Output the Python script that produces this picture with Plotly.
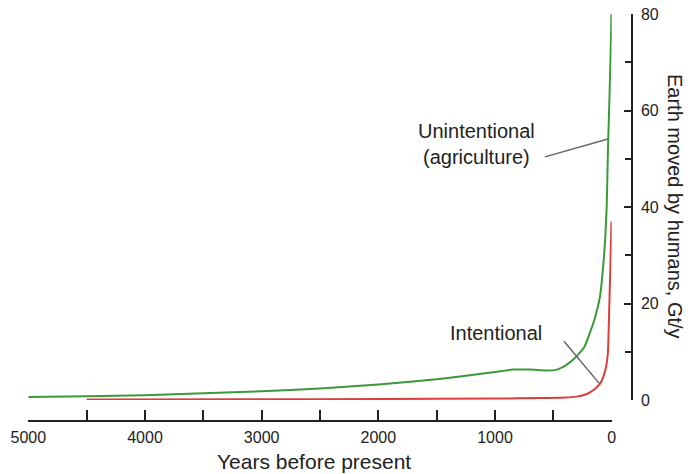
import plotly.graph_objects as go

# Years before present and earth moved (Gt/y)
green_years = [5000, 4500, 4000, 3500, 3000, 2500, 2000, 1500, 1200, 1000, 850, 700, 550,
               470, 420, 370, 320, 280, 230, 186, 150, 100, 72, 57, 43, 32, 20, 10, 2]
green_vals = [0.6, 0.8, 1.0, 1.4, 1.8, 2.4, 3.2, 4.3, 5.2, 5.8, 6.3, 6.3, 6.1,
              6.3, 6.8, 7.6, 8.6, 9.6, 11.2, 14.0, 16.5, 21.5, 28, 33, 40, 52, 62, 71, 80]

red_years = [4500, 3000, 2000, 1000, 600, 400, 300, 230, 186, 140, 100, 75, 57, 43, 32, 20, 10, 2]
red_vals = [0.1, 0.15, 0.2, 0.3, 0.4, 0.5, 0.7, 1.1, 1.6, 2.4, 3.4, 4.6, 6.0, 7.6, 10, 20, 29, 37]

x_ticks = [5000, 4000, 3000, 2000, 1000, 0]
y_ticks = [0, 20, 40, 60, 80]

FONT = "Liberation Sans, Arial, sans-serif"
TXT = "#222"

# body margin is removed below, so the figure fills the window
OFF = 0
W, H = 695, 474


def px(v):
    return (v - OFF) / W


def py(v):
    return (H - (v - OFF)) / H


fig = go.Figure()
fig.add_trace(go.Scatter(x=green_years, y=green_vals, mode="lines",
                         line=dict(color="#3a9a3a", width=2, shape="spline", smoothing=0.5),
                         name="Unintentional (agriculture)", showlegend=False))
fig.add_trace(go.Scatter(x=red_years, y=red_vals, mode="lines",
                         line=dict(color="#e03c3c", width=2, shape="spline", smoothing=0.4),
                         name="Intentional", showlegend=False))

fig.update_layout(
    width=W, height=H,
    margin=dict(l=0, r=0, t=0, b=0),
    paper_bgcolor="white", plot_bgcolor="white",
    font=dict(family=FONT, color=TXT),
    xaxis=dict(
        range=[5000, 0], domain=[px(28.3), px(611.7)],
        anchor="free", position=py(420.7),
        showgrid=False, zeroline=False,
        showline=True, linecolor="#222", linewidth=2,
        ticks="inside", ticklen=10, tickwidth=2, tickcolor="#222",
        tickvals=x_ticks, ticktext=[str(v) for v in x_ticks],
        tickfont=dict(size=16, color=TXT, family=FONT),
        ticklabeloverflow="allow", ticklabelstandoff=2,
        minor=dict(dtick=500, tick0=0, ticks="inside", ticklen=10, tickwidth=2, tickcolor="#222"),
        automargin=False,
    ),
    yaxis=dict(
        range=[0, 80.02], domain=[py(400), py(14)],
        anchor="free", position=px(631.7), side="right",
        showgrid=False, zeroline=False,
        showline=True, linecolor="#222", linewidth=2,
        ticks="inside", ticklen=7, tickwidth=2, tickcolor="#222",
        tickvals=y_ticks, ticktext=[str(v) for v in y_ticks],
        tickfont=dict(size=16, color=TXT, family=FONT),
        ticklabeloverflow="allow", ticklabelstandoff=5,
        minor=dict(dtick=10, tick0=0, ticks="inside", ticklen=6, tickwidth=2, tickcolor="#222"),
        automargin=False,
    ),
)

# axis titles
fig.add_annotation(text="Years before present", xref="paper", yref="paper",
                   x=px(314), y=py(461), xanchor="center", yanchor="middle",
                   showarrow=False, font=dict(size=21, color=TXT, family=FONT))
fig.add_annotation(text="Earth moved by humans, Gt/y", xref="paper", yref="paper",
                   x=px(675), y=py(206), xanchor="center", yanchor="middle",
                   textangle=90, showarrow=False, font=dict(size=20, color=TXT, family=FONT))

# series labels
fig.add_annotation(text="Unintentional<br>(agriculture)", x=1163, y=53.0, xref="x", yref="y",
                   xanchor="center", yanchor="middle", showarrow=False,
                   font=dict(size=20, color=TXT, family=FONT))
fig.add_annotation(text="Intentional", x=992, y=13.9, xref="x", yref="y",
                   xanchor="center", yanchor="middle", showarrow=False,
                   font=dict(size=20, color=TXT, family=FONT))

# callout lines
fig.add_shape(type="line", xref="x", yref="y", x0=572, y0=50.4, x1=32, y1=54.1,
              line=dict(color="#666", width=1.5))
fig.add_shape(type="line", xref="x", yref="y", x0=409, y0=12.2, x1=109, y1=3.5,
              line=dict(color="#666", width=1.5))

fig.write_html(
    "out.html",
    config={"displayModeBar": False},
    post_script="document.body.style.margin='0';document.body.style.overflow='hidden';",
)
